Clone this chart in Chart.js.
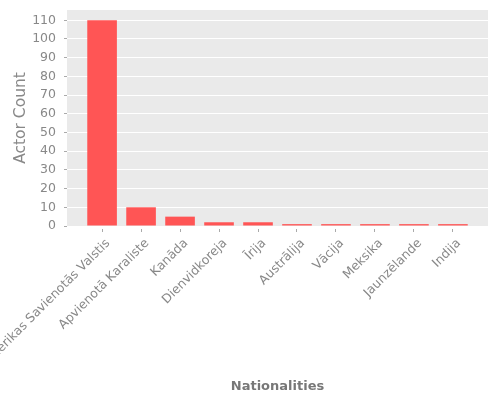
<!DOCTYPE html>
<html>
<head>
<meta charset="utf-8">
<script src="https://cdn.jsdelivr.net/npm/chart.js@4/dist/chart.umd.min.js"></script>
<style>
    html, body { margin: 0; padding: 0; background: #fff; }
</style>
</head>
<body>
<canvas id="chart" width="500" height="400"></canvas>
<script>
// Dati no attēla
const nationalities = [
    'Amerikas Savienotās Valstis', 'Apvienotā Karaliste', 'Kanāda', 'Dienvidkoreja', 'Īrija',
    'Austrālija', 'Vācija', 'Meksika', 'Jaunzēlande', 'Indija'
];
const actorCounts = [110, 10, 5, 2, 2, 1, 1, 1, 1, 1];
const yTicks = [0, 10, 20, 30, 40, 50, 60, 70, 80, 90, 100, 110];

const FONT = 'DejaVu Sans';

// pelēkais fons zīmējuma laukumam
const plotBackground = {
    id: 'plotBackground',
    beforeDraw(chart) {
        const { ctx, chartArea: a } = chart;
        ctx.save();
        ctx.fillStyle = '#EAEAEA';
        ctx.fillRect(a.left, a.top, a.right - a.left, a.bottom - a.top);
        ctx.restore();
    }
};

const points = actorCounts.map((v, i) => ({ x: i, y: v }));

new Chart(document.getElementById('chart'), {
    type: 'bar',
    data: {
        datasets: [{
            data: points,
            backgroundColor: '#FF5555',
            borderWidth: 0,
            barPercentage: 0.76,
            categoryPercentage: 1
        }]
    },
    plugins: [plotBackground],
    options: {
        responsive: false,
        animation: false,
        devicePixelRatio: 1,
        layout: { padding: { top: 10, right: 12, left: 0, bottom: 0 } },
        plugins: {
            legend: { display: false },
            tooltip: { enabled: false }
        },
        scales: {
            x: {
                type: 'linear',
                min: -0.9,
                max: 9.9,
                offset: false,
                grid: {
                    offset: false,
                    drawOnChartArea: false,
                    color: 'rgba(0,0,0,0)',
                    tickColor: '#AAAAAA',
                    tickLength: 6,
                    tickBorderDash: [0, 3, 3, 20]
                },
                border: { display: false },
                afterBuildTicks: (scale) => {
                    scale.ticks = nationalities.map((_, i) => ({ value: i }));
                },
                ticks: {
                    autoSkip: false,
                    minRotation: 45,
                    maxRotation: 45,
                    padding: 4,
                    labelOffset: 6,
                    color: '#888888',
                    font: { family: FONT, size: 12.5 },
                    callback: (v) => nationalities[v]
                },
                title: {
                    display: true,
                    text: 'Nationalities',
                    color: '#777777',
                    font: { family: FONT, size: 13, weight: 'bold' },
                    padding: { top: 0, bottom: 6 }
                },
                afterFit: (scale) => {
                    scale.height = 174;
                    scale.paddingLeft = 0;
                    scale.paddingRight = 0;
                }
            },
            y: {
                min: 0,
                max: 115.5,
                grid: {
                    color: '#FFFFFF',
                    lineWidth: 1,
                    tickColor: '#AAAAAA',
                    tickLength: 6,
                    tickBorderDash: [0, 3, 3, 20]
                },
                border: { display: false },
                afterBuildTicks: (scale) => {
                    scale.ticks = yTicks.map(v => ({ value: v }));
                },
                ticks: {
                    padding: 5,
                    color: '#888888',
                    font: { family: FONT, size: 12.5 }
                },
                title: {
                    display: true,
                    text: 'Actor Count',
                    color: '#888888',
                    font: { family: FONT, size: 15.5 },
                    padding: { top: 12, bottom: 0 }
                },
                afterFit: (scale) => {
                    scale.width = 67;
                    scale.paddingTop = 0;
                    scale.paddingBottom = 0;
                }
            }
        }
    }
});
</script>
</body>
</html>
